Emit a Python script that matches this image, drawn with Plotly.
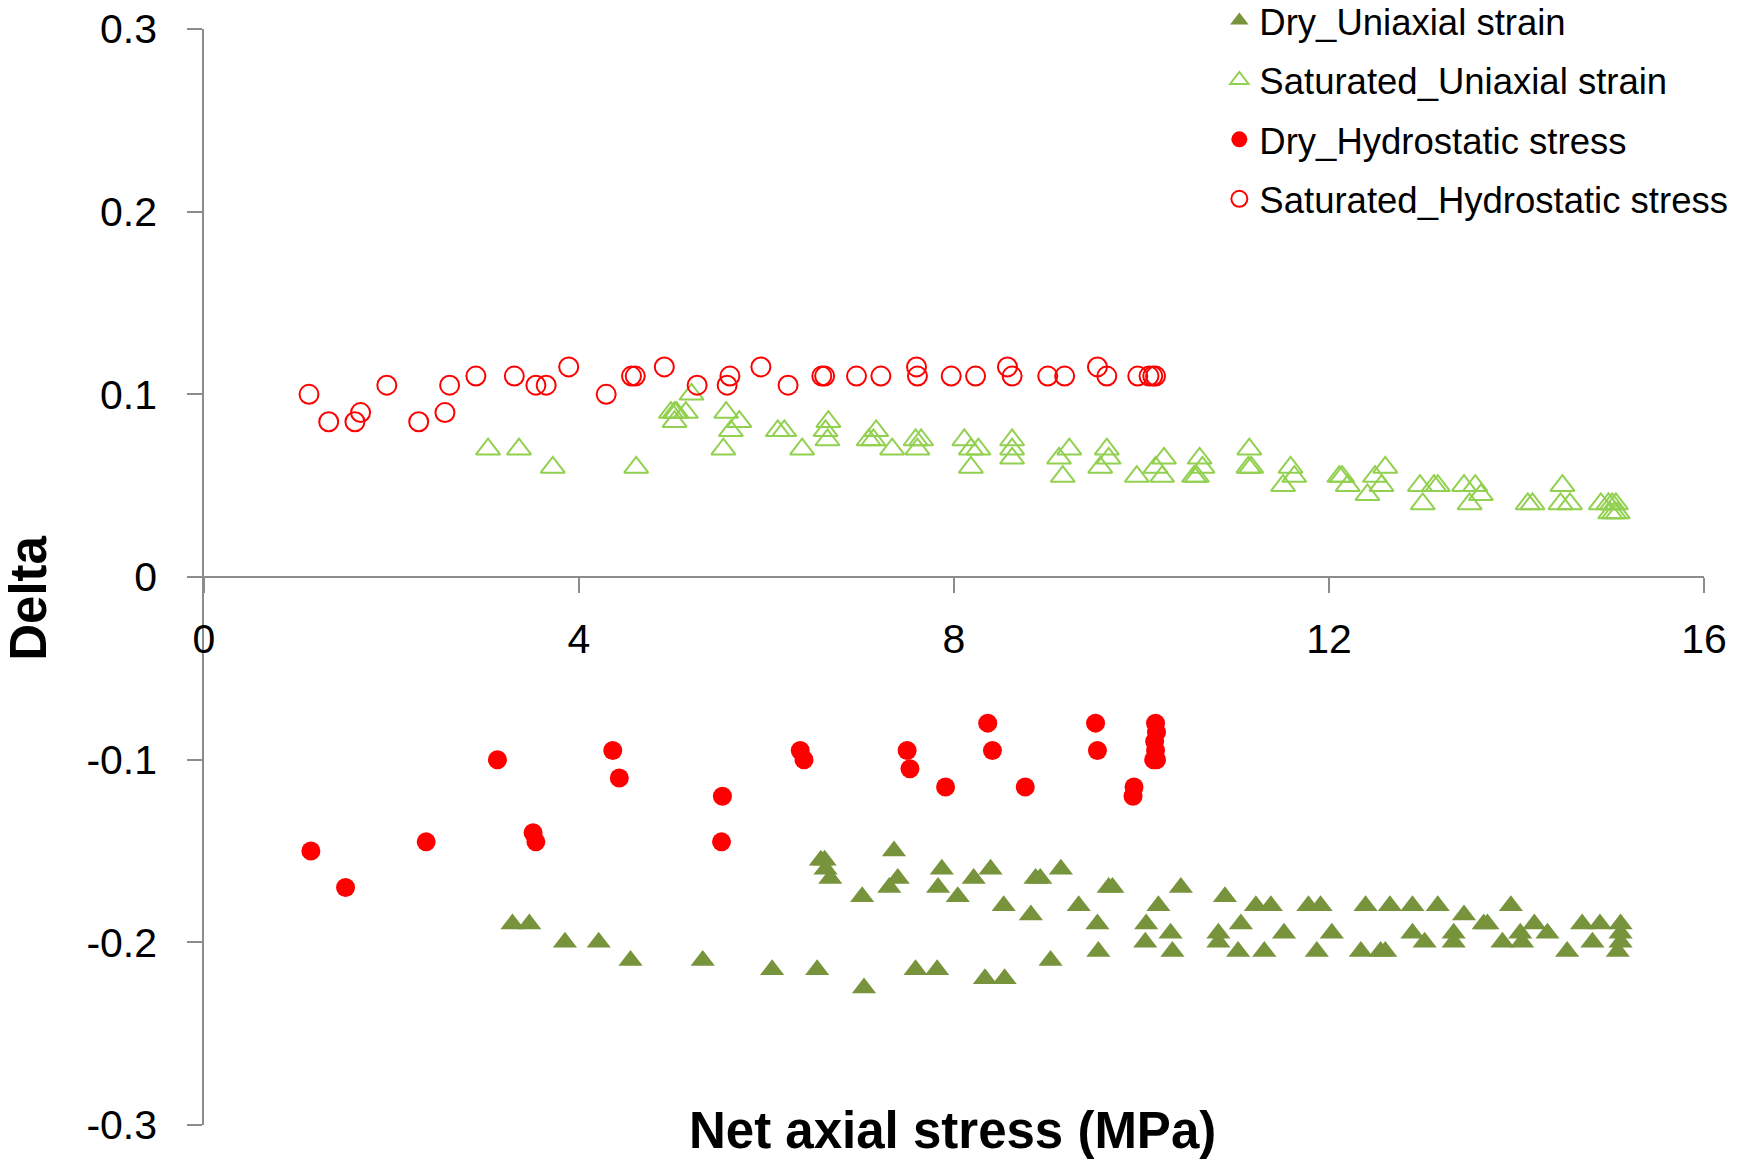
import plotly.graph_objects as go

# ---------------- data ----------------
dry_uni_x = [3.29, 3.47, 3.85, 4.21, 4.55, 5.32, 6.06, 6.54, 7.04, 7.59, 7.82, 8.33, 8.54, 9.03,
             6.58, 6.62, 6.63, 6.68, 7.02, 7.36, 7.40, 7.31, 7.87, 7.83, 8.04, 8.21, 8.39, 8.53,
             8.82, 8.87, 8.92, 9.14, 9.33, 9.53, 9.54, 9.65, 9.69, 10.18, 10.05, 10.04, 10.42,
             10.31, 10.33, 10.89, 10.82, 10.82, 11.06, 11.03, 11.22, 11.38, 11.31, 11.52, 11.78,
             11.91, 12.03, 11.87, 12.39, 12.34, 12.55, 12.60, 12.65, 12.89, 12.89, 13.02, 13.16,
             13.44, 13.33, 13.33, 13.65, 13.69, 13.94, 13.85, 14.04, 14.06, 14.19, 14.33, 14.54,
             14.70, 14.81, 14.89, 15.11, 15.11, 15.11, 15.08]
dry_uni_y = [-0.19, -0.19, -0.2, -0.2, -0.21, -0.21, -0.215, -0.215, -0.225, -0.215, -0.215, -0.22, -0.22, -0.21,
             -0.155, -0.155, -0.16, -0.165, -0.175, -0.15, -0.165, -0.17, -0.16, -0.17, -0.175, -0.165, -0.16, -0.18,
             -0.185, -0.165, -0.165, -0.16, -0.18, -0.19, -0.205, -0.17, -0.17, -0.18, -0.19, -0.2, -0.17,
             -0.195, -0.205, -0.175, -0.195, -0.2, -0.19, -0.205, -0.18, -0.18, -0.205, -0.195, -0.18,
             -0.18, -0.195, -0.205, -0.18, -0.205, -0.205, -0.205, -0.18, -0.18, -0.195, -0.2, -0.18,
             -0.185, -0.195, -0.2, -0.19, -0.19, -0.18, -0.2, -0.195, -0.2, -0.19, -0.195, -0.205,
             -0.19, -0.2, -0.19, -0.19, -0.195, -0.2, -0.205]

sat_uni_x = [3.03, 3.36, 3.72, 4.61, 4.98, 5.02, 5.04, 5.02, 5.14, 5.20, 5.57, 5.71, 5.62, 5.54,
             6.12, 6.19, 6.38, 6.66, 6.63, 6.65, 7.17, 7.09, 7.14, 7.34, 7.59, 7.65, 7.61, 8.11,
             8.18, 8.26, 8.18, 8.62, 8.62, 8.62, 9.12, 9.23, 9.16, 9.63, 9.65, 9.56, 9.95, 10.15,
             10.24, 10.22, 10.62, 10.65, 10.56, 10.59, 11.15, 11.14, 11.17, 11.59, 11.63, 11.51,
             12.11, 12.14, 12.20, 12.41, 12.49, 12.56, 12.60, 12.97, 13.00, 13.12, 13.16, 13.44,
             13.56, 13.62, 13.50, 14.12, 14.17, 14.49, 14.47, 14.57, 14.90, 14.98, 15.02, 15.06,
             15.00, 15.04, 15.08]
sat_uni_y = [0.07, 0.07, 0.06, 0.06, 0.09, 0.09, 0.09, 0.085, 0.09, 0.10, 0.09, 0.085, 0.08, 0.07,
             0.08, 0.08, 0.07, 0.085, 0.08, 0.075, 0.08, 0.075, 0.075, 0.07, 0.075, 0.075, 0.07, 0.075,
             0.07, 0.07, 0.06, 0.075, 0.07, 0.065, 0.065, 0.07, 0.055, 0.07, 0.065, 0.06, 0.055, 0.06,
             0.065, 0.055, 0.065, 0.06, 0.055, 0.055, 0.07, 0.06, 0.06, 0.06, 0.055, 0.05,
             0.055, 0.055, 0.05, 0.045, 0.055, 0.05, 0.06, 0.05, 0.04, 0.05, 0.05, 0.05,
             0.05, 0.045, 0.04, 0.04, 0.04, 0.05, 0.04, 0.04, 0.04, 0.04, 0.04, 0.04,
             0.035, 0.035, 0.035]

dry_hyd_x = [1.14, 1.51, 2.37, 3.13, 3.51, 3.54, 4.36, 4.43, 5.53, 5.52, 6.36, 6.40, 7.50, 7.53,
             7.91, 8.36, 8.41, 8.76, 9.51, 9.53, 9.92, 9.91, 10.15, 10.16, 10.14, 10.15, 10.16, 10.13]
dry_hyd_y = [-0.15, -0.17, -0.145, -0.1, -0.14, -0.145, -0.095, -0.11, -0.12, -0.145, -0.095, -0.1, -0.095, -0.105,
             -0.115, -0.08, -0.095, -0.115, -0.08, -0.095, -0.115, -0.12, -0.08, -0.085, -0.09, -0.095, -0.1, -0.1]

sat_hyd_x = [1.12, 1.33, 1.61, 1.67, 1.95, 2.29, 2.57, 2.62, 2.90, 3.31, 3.54, 3.65, 3.89, 4.29,
             4.56, 4.60, 4.91, 5.26, 5.58, 5.61, 5.94, 6.23, 6.59, 6.62, 6.96, 7.22, 7.60, 7.61,
             7.97, 8.23, 8.57, 8.62, 9.00, 9.18, 9.53, 9.63, 9.96, 10.08, 10.12, 10.15]
sat_hyd_y = [0.1, 0.085, 0.085, 0.09, 0.105, 0.085, 0.09, 0.105, 0.11, 0.11, 0.105, 0.105, 0.115, 0.1,
             0.11, 0.11, 0.115, 0.105, 0.105, 0.11, 0.115, 0.105, 0.11, 0.11, 0.11, 0.11, 0.115, 0.11,
             0.11, 0.11, 0.115, 0.11, 0.11, 0.11, 0.115, 0.11, 0.11, 0.11, 0.11, 0.11]

x_ticks = [0, 4, 8, 12, 16]
x_tick_labels = ["0", "4", "8", "12", "16"]
y_ticks = [0.3, 0.2, 0.1, 0, -0.1, -0.2, -0.3]
y_tick_labels = ["0.3", "0.2", "0.1", "0", "-0.1", "-0.2", "-0.3"]

# ---------------- figure ----------------
FONT = "Liberation Sans, Arial, sans-serif"
AXIS_COLOR = "#8c8c8c"

fig = go.Figure()
fig.add_trace(go.Scatter(x=dry_uni_x, y=dry_uni_y, mode="markers", name="Dry_Uniaxial strain",
                         legendgroup="g1",
                         marker=dict(symbol="triangle-up", size=21, color="#77933C", line=dict(width=0))))
fig.add_trace(go.Scatter(x=sat_uni_x, y=sat_uni_y, mode="markers", name="Saturated_Uniaxial strain",
                         legendgroup="g2",
                         marker=dict(symbol="triangle-up-open", size=21, color="#92D050",
                                     line=dict(width=2, color="#92D050"))))
fig.add_trace(go.Scatter(x=dry_hyd_x, y=dry_hyd_y, mode="markers", name="Dry_Hydrostatic stress",
                         legendgroup="g3",
                         marker=dict(symbol="circle", size=19, color="#FF0000", line=dict(width=0))))
fig.add_trace(go.Scatter(x=sat_hyd_x, y=sat_hyd_y, mode="markers", name="Saturated_Hydrostatic stress",
                         legendgroup="g4",
                         marker=dict(symbol="circle-open", size=19, color="#FF0000",
                                     line=dict(width=2, color="#FF0000"))))

fig.update_layout(
    width=1748, height=1160,
    margin=dict(l=204, r=44, t=29, b=35, autoexpand=False),
    plot_bgcolor="white", paper_bgcolor="white",
    font=dict(family=FONT, color="black"),
    showlegend=True,
    legend=dict(x=0.6769, y=1.0354, xanchor="left", yanchor="top",
                font=dict(family=FONT, size=36.5, color="black"),
                traceorder="grouped", tracegroupgap=9,
                bgcolor="rgba(0,0,0,0)", borderwidth=0),
    xaxis=dict(range=[0, 16], tickvals=x_ticks, ticktext=x_tick_labels,
               anchor="free", position=0.5, side="bottom",
               showline=True, linecolor=AXIS_COLOR, linewidth=1.5,
               ticks="outside", ticklen=15, tickwidth=1.5, tickcolor=AXIS_COLOR,
               showgrid=False, zeroline=False,
               tickfont=dict(family=FONT, size=41, color="black"),
               ticklabelstandoff=11),
    yaxis=dict(range=[-0.3, 0.3], tickvals=y_ticks, ticktext=y_tick_labels,
               showline=True, linecolor=AXIS_COLOR, linewidth=1.5,
               ticks="outside", ticklen=15, tickwidth=1.5, tickcolor=AXIS_COLOR,
               showgrid=False, zeroline=False,
               tickfont=dict(family=FONT, size=41, color="black"),
               ticklabelstandoff=22),
    annotations=[
        dict(text="<b>Net axial stress (MPa)</b>", xref="paper", yref="paper",
             x=0.4993, y=-0.0046, xanchor="center", yanchor="middle", showarrow=False,
             font=dict(family=FONT, size=51, color="black")),
        dict(text="<b>Delta</b>", xref="paper", yref="paper",
             x=-0.1167, y=0.481, xanchor="center", yanchor="middle", showarrow=False,
             textangle=-90, font=dict(family=FONT, size=51, color="black")),
    ],
)

fig.write_html("out.html",
               config={"displayModeBar": False},
               post_script="document.body.style.margin='0';document.body.style.overflow='hidden';")
